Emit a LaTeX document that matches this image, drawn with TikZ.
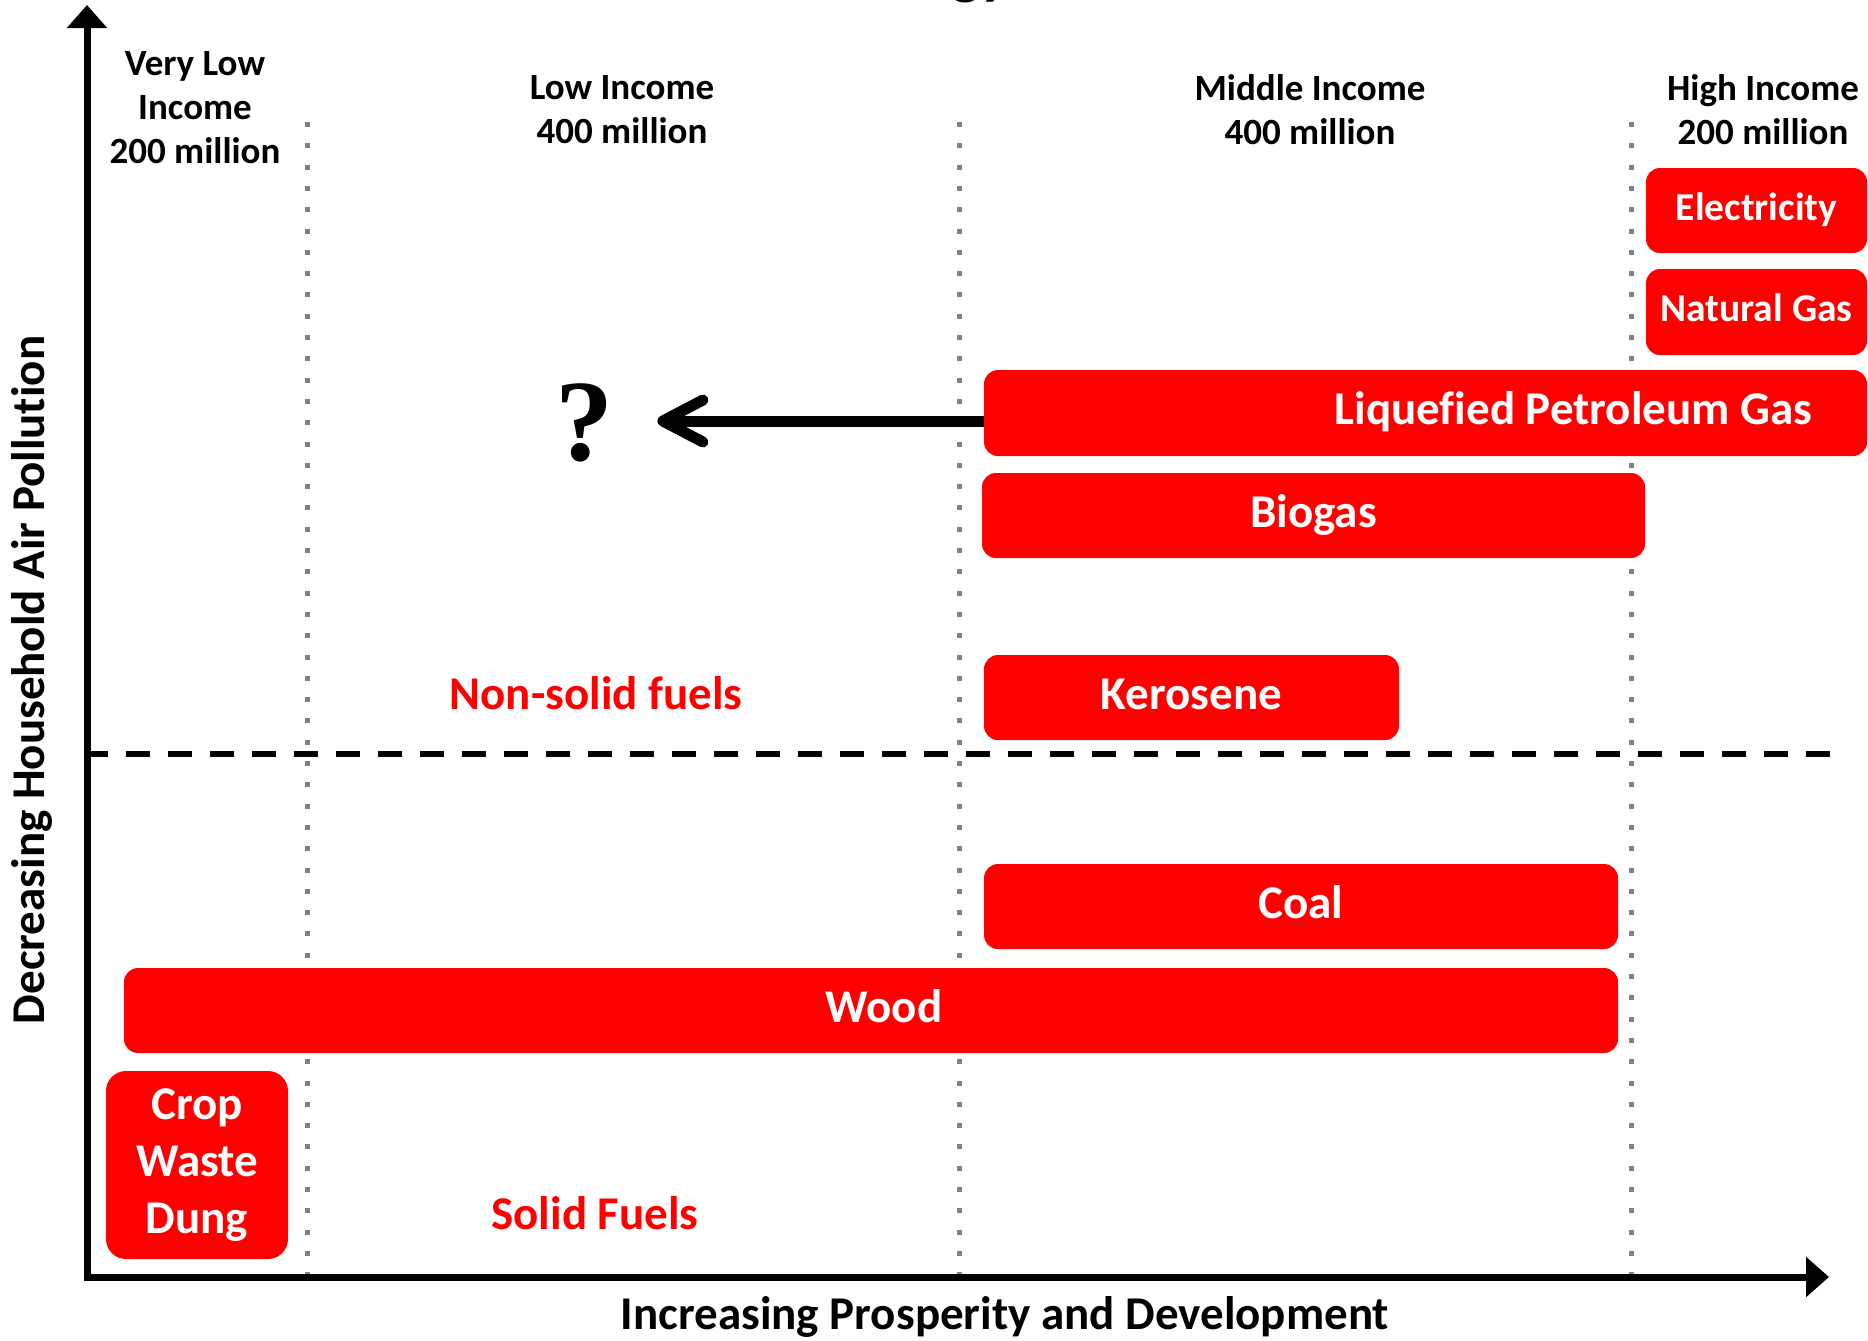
\documentclass[tikz,border=0pt]{standalone}
\usepackage{fontspec}
\setsansfont{Carlito}[Ligatures=NoCommon]
\newfontfamily\askfont{Liberation Serif}
\usetikzlibrary{arrows.meta,calc}

\begin{document}
\begin{tikzpicture}[x=0.5pt,y=-0.5pt,
    fuel/.style={fill=red, text=white, rounded corners=7pt, inner sep=0pt, outer sep=0pt,
      align=center, font=\sffamily\bfseries\fontsize{23.5}{28.5}\selectfont},
    barfuel/.style={fuel, text height=17.6pt, text depth=5.9pt},
    topfuel/.style={fuel, text height=14.8pt, text depth=4.9pt,
      font=\sffamily\bfseries\fontsize{19.75}{24}\selectfont},
    income/.style={align=center, font=\sffamily\bfseries\fontsize{18.5}{22}\selectfont},
    group/.style={text=red, font=\sffamily\bfseries\fontsize{23.5}{28.5}\selectfont},
    axislabel/.style={font=\sffamily\bfseries\fontsize{23.5}{28.5}\selectfont},
    divider/.style={draw=gray, line width=2.5pt, dash pattern=on 2.5pt off 8.15pt},
    axis/.style={line width=3.5pt, line join=miter,
      arrows={Triangle[length=11.5pt,width=19.5pt]-Triangle[length=11.5pt,width=19.5pt]}},
    pointer/.style={line width=5.5pt, -{Straight Barb[round,length=20pt,width=21pt]}}]

    \useasboundingbox (0,0) rectangle (1868,1340);

    % Title (cut off at the top)
    \node[anchor=base east, font=\sffamily\bfseries\fontsize{31}{36}\selectfont] (title) at (1017,-8) {Energy};

    % Income bands
    \foreach \x in {307,959,1631} \draw[divider] (\x,122) -- (\x,1281);
    \node[income] (vlow) at (195,108) {Very Low\\Income\\200 million};
    \node[income] (low) at (622,110) {Low Income\\400 million};
    \node[income] (mid) at (1310,110) {Middle Income\\400 million};
    \node[income] (high) at (1763,110) {High Income\\200 million};

    % Solid / non-solid border
    \draw[line width=3pt, dash pattern=on 12pt off 9pt] (84,754) -- (1835,754);
    \node[group] (nonsolid) at (596,693) {Non-solid fuels};
    \node[group] (solid) at (595,1213) {Solid Fuels};

    % Axes
    \coordinate (origin) at (87,1277);
    \coordinate (ytip) at (87,5);
    \coordinate (xtip) at (1829,1277);
    \draw[axis] (ytip) -- (origin) -- (xtip);
    \node[axislabel] (xlabel) at (1005,1317) {Increasing Prosperity and Development};
    \node[axislabel, rotate=90] (ylabel) at (32,680) {Decreasing Household Air Pollution};

    % Fuels
    \node[topfuel, minimum width=110.5pt, minimum height=42.5pt] (elec) at (1756.5,210.5) {Electricity};
    \node[topfuel, minimum width=110.5pt, minimum height=43pt] (ngas) at (1756.5,312) {Natural Gas};
    \node[barfuel, minimum width=441.5pt, minimum height=43pt] (lpg) at (1425.5,413) {\hspace*{148pt}Liquefied Petroleum Gas};
    \node[barfuel, minimum width=331.5pt, minimum height=42.5pt] (biogas) at (1313.5,515.5) {Biogas};
    \node[barfuel, minimum width=207.5pt, minimum height=42.5pt] (kero) at (1191.5,697.5) {Kerosene};
    \node[barfuel, minimum width=317pt, minimum height=42.5pt] (coal) at (1301,906.5) {Coal};
    \node[barfuel, minimum width=747pt, minimum height=42.5pt] (wood) at (871,1010.5) {\hspace*{13pt}Wood};
    \node[fuel, rounded corners=10pt, minimum width=91pt, minimum height=94pt] (crop) at (197,1165) {Crop\\Waste\\Dung};

    % Where next?
    \node[inner sep=0pt, font=\askfont\bfseries\fontsize{58}{60}\selectfont] (ask) at (584,423) {?};
    \draw[pointer] ($(lpg.west)+(0,8)$) -- ($(lpg.west -| ask.east)+(44,8)$);
\end{tikzpicture}
\end{document}
